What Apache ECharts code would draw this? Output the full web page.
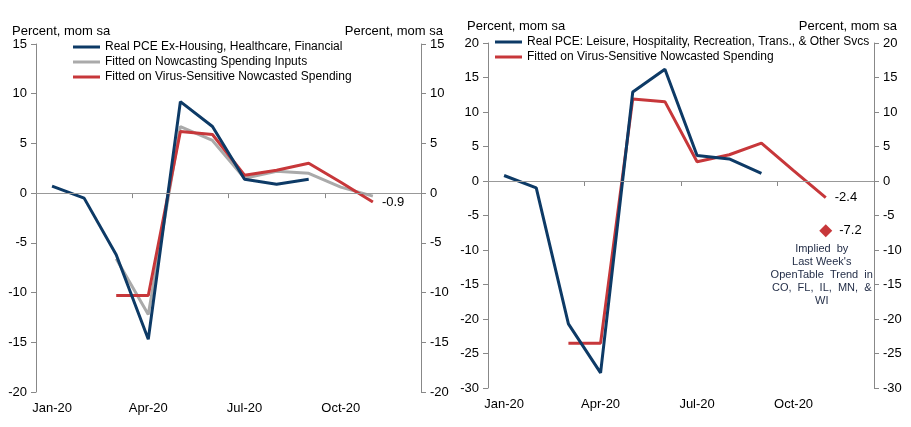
<!DOCTYPE html>
<html>
<head>
<meta charset="utf-8">
<script src="https://cdn.jsdelivr.net/npm/echarts@6/dist/echarts.min.js"></script>
<style>
  html, body { margin: 0; padding: 0; background: #fff; }
  #chart { width: 911px; height: 427px; }
</style>
</head>
<body>
<div id="chart"></div>
<script>
// Monthly categories and values
const months = ['Jan-20', 'Feb-20', 'Mar-20', 'Apr-20', 'May-20', 'Jun-20',
                'Jul-20', 'Aug-20', 'Sep-20', 'Oct-20', 'Nov-20', 'Dec-20'];

// left panel
const pceExHousing   = [0.7, -0.5, -6.2, -14.7, 9.2, 6.7, 1.4, 0.9, 1.4, null, null, null];
const fitNowcast     = [null, null, -6.6, -12.2, 6.7, 5.3, 1.5, 2.2, 2.0, 0.6, -0.3, null];
const fitVirusLeft   = [null, null, -10.3, -10.3, 6.2, 5.9, 1.8, 2.3, 3.0, 1.1, -0.9, null];

// right panel
const pceLeisure     = [0.8, -1.0, -20.7, -27.8, 12.9, 16.2, 3.7, 3.2, 1.1, null, null, null];
const fitVirusRight  = [null, null, -23.5, -23.5, 11.9, 11.5, 2.8, 3.8, 5.5, 1.5, -2.4, null];
const openTable      = [null, null, null, null, null, null, null, null, null, null, -7.2, null];

const NAVY = '#0D3A66';
const GREY = '#AAAAAA';
const RED  = '#C7373A';
const FONT = 'Liberation Sans';

const chart = echarts.init(document.getElementById('chart'), null, { renderer: 'canvas' });

const xAxisBase = {
  type: 'category',
  data: months,
  boundaryGap: true,
  axisLine: { lineStyle: { color: '#888', width: 1 } },
  axisTick: { show: true, interval: 2, length: 5, lineStyle: { color: '#888' } },
  axisLabel: { interval: 2, color: '#000', fontSize: 13, fontFamily: FONT, margin: 10 },
  splitLine: { show: false },
};

function yAxisPair(grid, min, max) {
  const base = {
    type: 'value', gridIndex: grid, min, max, interval: 5,
    axisLine: { show: true, lineStyle: { color: '#888', width: 1 } },
    axisTick: { show: true, length: 5, lineStyle: { color: '#888' } },
    axisLabel: { color: '#000', fontSize: 13, fontFamily: FONT, margin: 9 },
    splitLine: { show: false },
  };
  return [
    { ...base, position: 'left' },
    { ...base, position: 'right' },
  ];
}

const zeroLine = {
  silent: true,
  symbol: 'none',
  label: { show: false },
  lineStyle: { color: '#999', width: 1, type: 'solid' },
  data: [{ yAxis: 0 }],
};

// value printed to the right of a line's last point
const endTag = {
  show: true, distance: 9, color: '#000', fontSize: 13, fontFamily: FONT,
  formatter: p => String(p.value),
};

function line(name, values, color, xi, yi, extra) {
  return {
    name, type: 'line', data: values, xAxisIndex: xi, yAxisIndex: yi,
    symbol: 'none', connectNulls: false, smooth: false,
    lineStyle: { color, width: 3 }, itemStyle: { color },
    z: 3, ...extra,
  };
}

const legendText = { color: '#000', fontSize: 12, fontFamily: FONT };
const titleFont = '13px ' + FONT;

chart.setOption({
  animation: false,
  textStyle: { fontFamily: FONT },
  grid: [
    { left: 36, right: 490, top: 44, bottom: 35 },
    { left: 488, right: 37, top: 43, bottom: 39 },
  ],
  xAxis: [
    { ...xAxisBase, gridIndex: 0 },
    { ...xAxisBase, gridIndex: 1 },
  ],
  yAxis: [...yAxisPair(0, -20, 15), ...yAxisPair(1, -30, 20)],
  legend: [
    {
      orient: 'vertical', left: 73, top: 41, itemGap: 3, padding: 0,
      icon: 'rect', itemWidth: 27, itemHeight: 3,
      textStyle: legendText,
      data: ['Real PCE Ex-Housing, Healthcare, Financial',
             'Fitted on Nowcasting Spending Inputs',
             'Fitted on Virus-Sensitive Nowcasted Spending'],
    },
    {
      orient: 'vertical', left: 495, top: 36, itemGap: 3, padding: 0,
      icon: 'rect', itemWidth: 27, itemHeight: 3,
      textStyle: legendText,
      data: ['Real PCE: Leisure, Hospitality, Recreation, Trans., & Other Svcs',
             'Fitted on Virus-Sensitive Nowcasted Spending '],
    },
  ],
  graphic: [
    { type: 'text', left: 12, top: 25, style: { text: 'Percent, mom sa', font: titleFont, fill: '#000' } },
    { type: 'text', right: 468, top: 25, style: { text: 'Percent, mom sa', font: titleFont, fill: '#000' } },
    { type: 'text', left: 467, top: 20, style: { text: 'Percent, mom sa', font: titleFont, fill: '#000' } },
    { type: 'text', right: 14, top: 20, style: { text: 'Percent, mom sa', font: titleFont, fill: '#000' } },
  ],
  series: [
    line('Real PCE Ex-Housing, Healthcare, Financial', pceExHousing, NAVY, 0, 0, { markLine: zeroLine, z: 4 }),
    line('Fitted on Nowcasting Spending Inputs', fitNowcast, GREY, 0, 0, { z: 2 }),
    line('Fitted on Virus-Sensitive Nowcasted Spending', fitVirusLeft, RED, 0, 0, { endLabel: endTag }),

    line('Real PCE: Leisure, Hospitality, Recreation, Trans., & Other Svcs', pceLeisure, NAVY, 1, 2, { markLine: zeroLine, z: 4 }),
    line('Fitted on Virus-Sensitive Nowcasted Spending ', fitVirusRight, RED, 1, 2, { endLabel: endTag }),
    {
      name: 'OpenTable', type: 'scatter', xAxisIndex: 1, yAxisIndex: 2,
      symbol: 'diamond', symbolSize: 13,
      itemStyle: { color: RED, opacity: 1 },
      label: { ...endTag, position: 'right', distance: 7 },
      data: openTable,
      markPoint: {
        symbol: 'circle', symbolSize: 0,
        data: [{ coord: ['Nov-20', openTable[10]] }],
        label: {
          show: true, position: 'bottom', distance: 12, offset: [-4, 0],
          formatter: "Implied  by\nLast Week's\nOpenTable  Trend  in\nCO,  FL,  IL,  MN,  &\nWI",
          color: '#1F2A44', fontSize: 11, lineHeight: 13, align: 'center', fontFamily: FONT,
        },
      },
    },
  ],
});
</script>
</body>
</html>
